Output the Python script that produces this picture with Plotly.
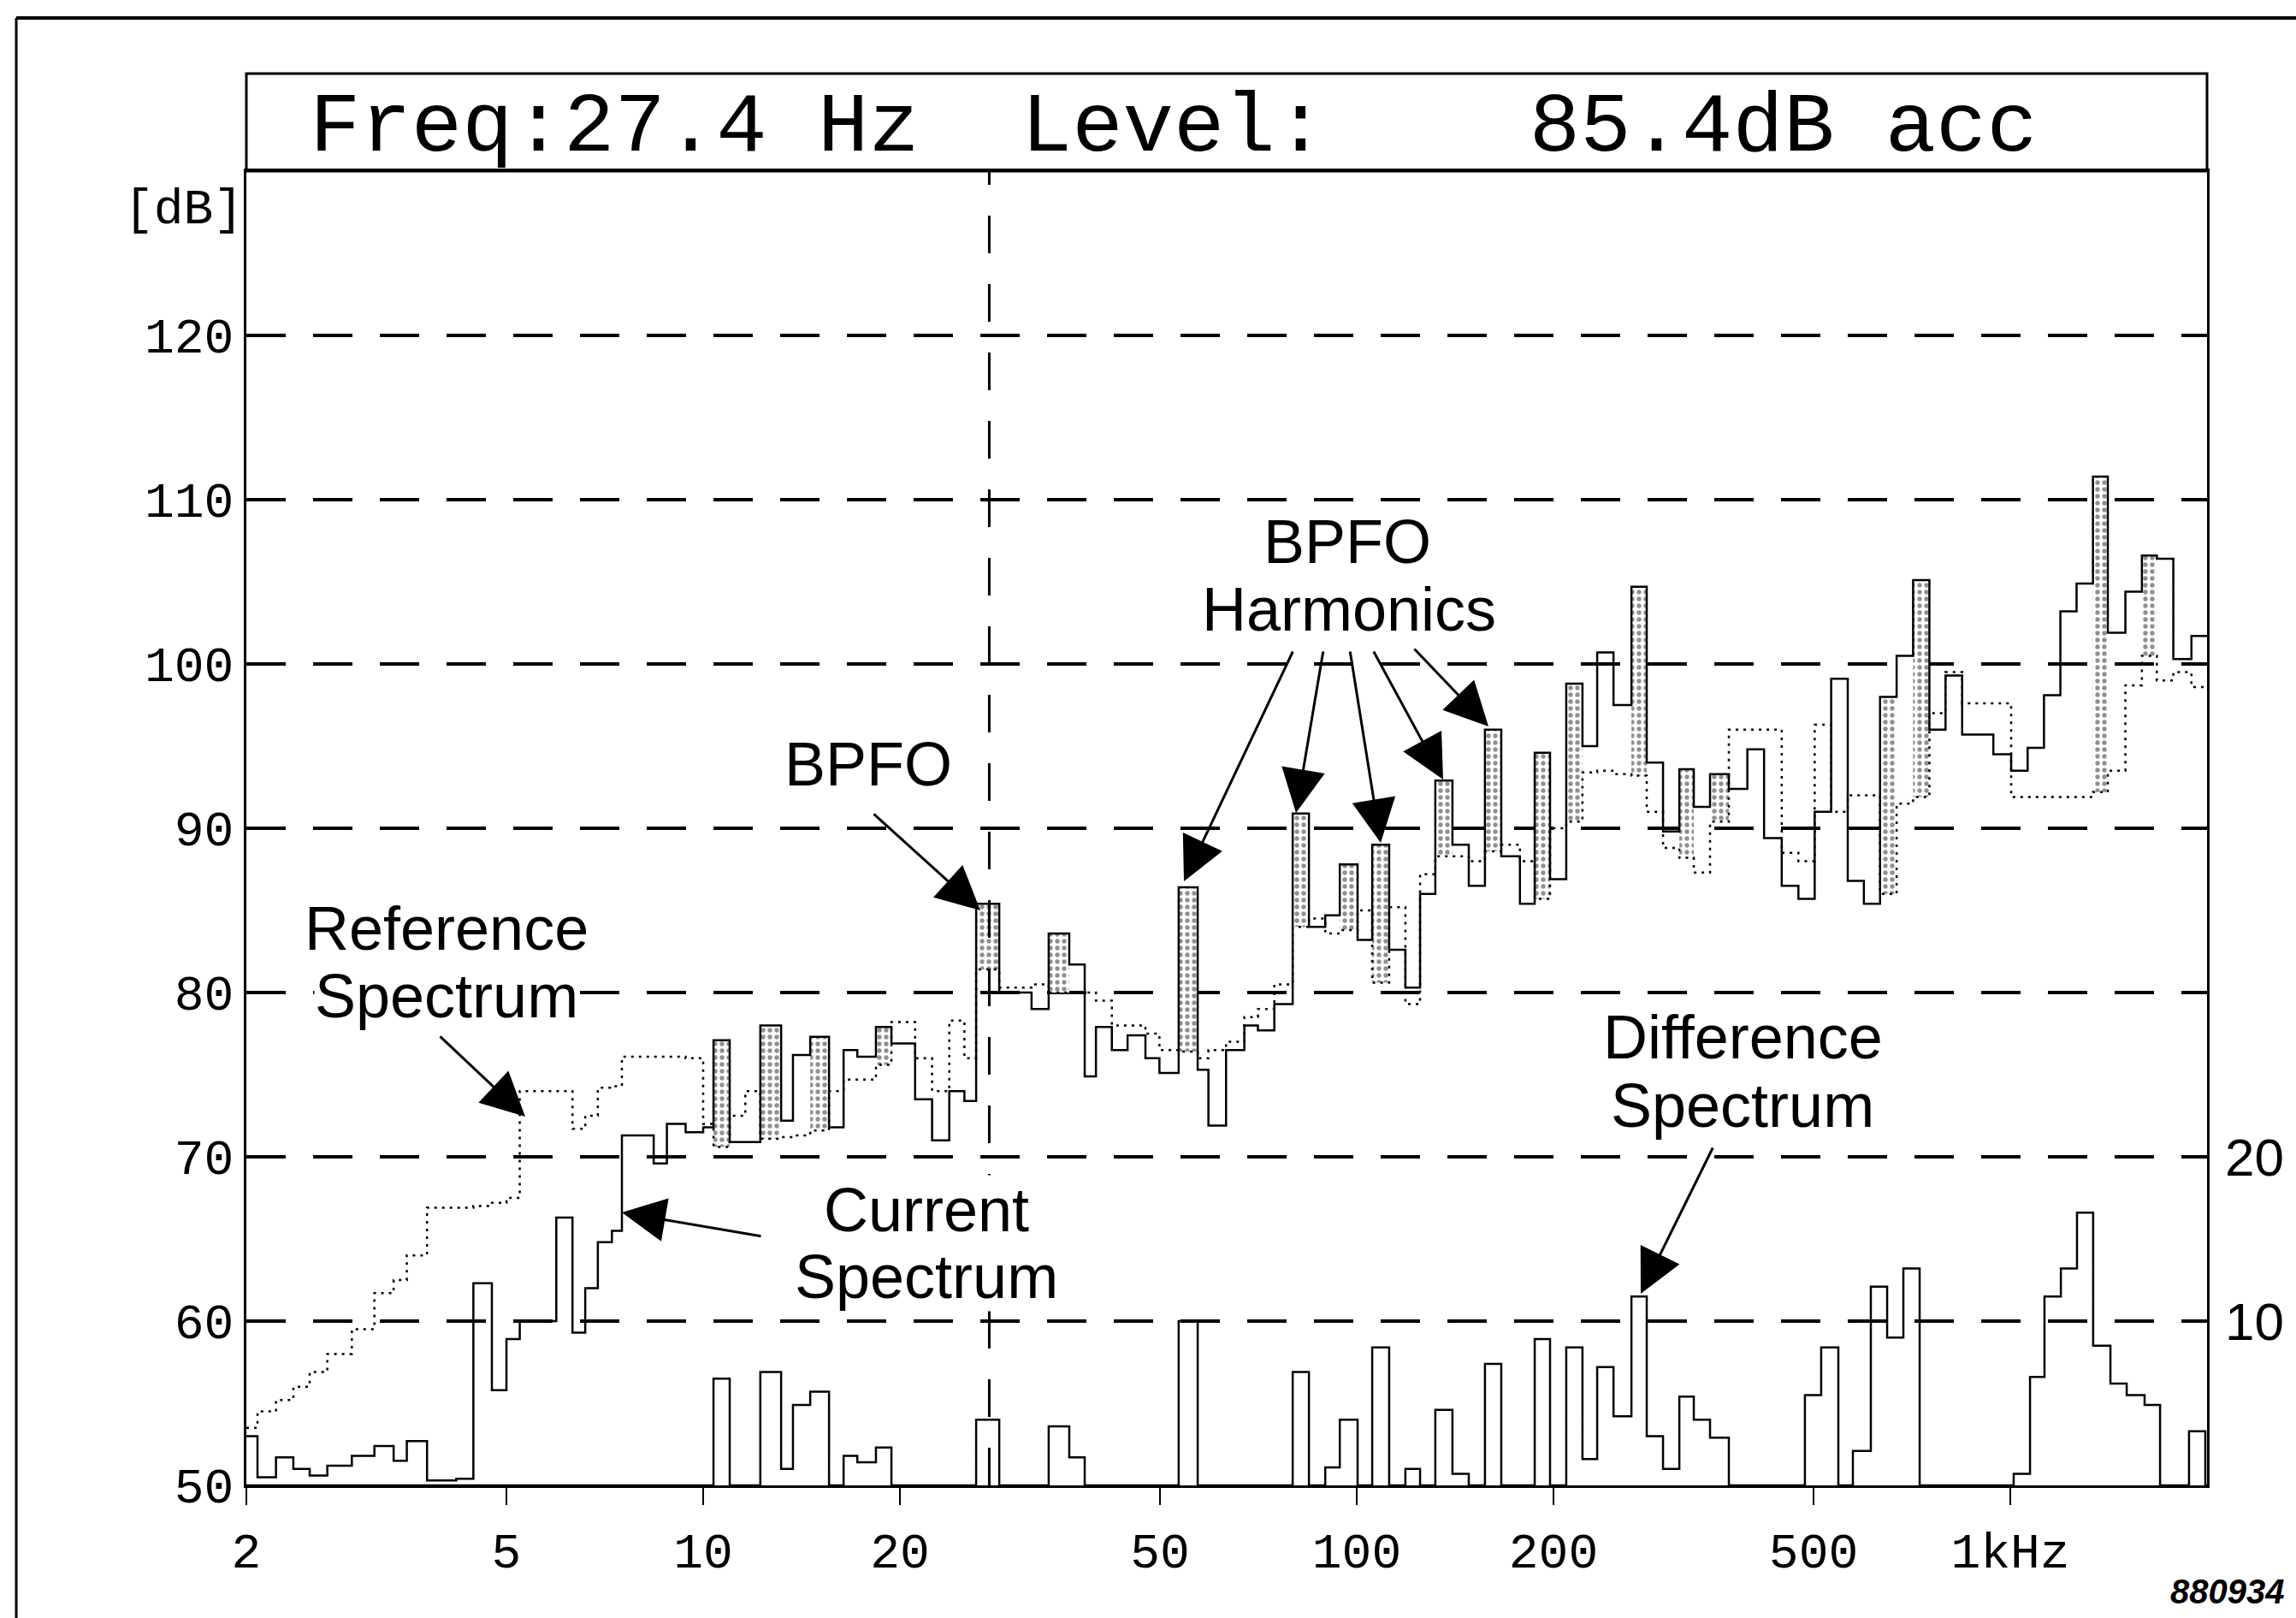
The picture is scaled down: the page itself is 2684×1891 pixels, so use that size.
import math
import plotly.graph_objects as go

# ---------------- data ----------------
# upper spectra: band lower edges (Hz) + final upper edge
FREQ_EDGES = [2.00, 2.08, 2.22, 2.36, 2.50, 2.66, 2.90, 3.14, 3.36, 3.52,
              3.78, 4.19, 4.45, 4.75, 5.00, 5.24, 5.96, 6.31, 6.60, 6.90,
              7.25, 7.51, 8.40, 8.80, 9.40, 10.00, 10.37, 10.98, 11.60, 12.23,
              13.16, 13.72, 14.58, 15.58, 16.40, 17.21, 18.38, 19.41, 21.10, 22.40,
              23.80, 25.10, 26.16, 28.38, 31.80, 33.78, 36.32, 38.35, 39.90, 42.20,
              44.60, 47.50, 49.90, 53.40, 57.10, 59.30, 63.10, 67.30, 70.60, 74.80,
              79.80, 84.50, 89.50, 94.20, 100.3, 105.6, 112.1, 118.7, 125.0, 131.9,
              140.1, 148.4, 157.1, 166.4, 177.7, 187.2, 197.6, 209.2, 221.5, 233.3,
              247.1, 263.2, 277.8, 294.2, 311.6, 327.9, 347.2, 371.0, 396.0, 420.0,
              447.0, 474.0, 502.0, 532.0, 564.0, 597.0, 632.0, 670.0, 710.0, 752.0,
              796.0, 844.0, 942.0, 1003, 1063, 1126, 1193, 1263, 1338, 1410,
              1500, 1590, 1676, 1776, 1893, 2000]

REFERENCE_DB = [53.5, 54.5, 55.2, 56.0, 56.9, 58.0, 59.5, 61.7, 62.5, 64.0,
                66.9, 66.9, 67.0, 67.2, 67.5, 74.0, 74.0, 71.7, 72.5, 74.2,
                74.3, 76.1, 76.1, 76.1, 76.0, 72.0, 70.6, 72.5, 74.0, 71.1,
                71.2, 71.3, 71.6, 74.0, 74.7, 74.7, 75.6, 78.2, 76.0, 74.0,
                78.3, 76.0, 81.4, 80.3, 80.5, 80.0, 80.0, 80.0, 79.5, 78.0,
                78.0, 77.5, 76.5, 76.4, 76.0, 76.5, 77.0, 78.5, 79.0, 80.5,
                84.0, 84.5, 83.6, 83.8, 85.0, 80.6, 85.2, 79.3, 87.2, 88.3,
                88.3, 88.0, 88.6, 89.0, 88.0, 85.7, 90.0, 90.4, 93.4, 93.5,
                93.3, 93.2, 91.0, 88.8, 88.2, 87.3, 90.4, 96.0, 96.0, 96.0,
                88.5, 88.0, 96.3, 91.0, 92.0, 92.0, 86.0, 91.5, 91.9, 97.0,
                99.5, 97.6, 97.6, 91.9, 91.9, 91.9, 91.9, 91.9, 92.2, 93.5,
                98.7, 100.5, 99.0, 99.5, 98.6]

CURRENT_DB = [53.0, 50.5, 51.7, 51.0, 50.6, 51.2, 51.8, 52.4, 51.5, 52.7,
              50.3, 50.4, 62.3, 55.8, 58.9, 60.0, 66.3, 59.3, 62.0, 64.8,
              65.5, 71.3, 69.6, 72.0, 71.5, 71.8, 77.1, 70.9, 70.9, 78.0,
              72.2, 76.2, 77.3, 71.8, 76.5, 76.1, 77.9, 76.9, 73.5, 71.0,
              74.0, 73.4, 85.4, 80.0, 79.0, 83.6, 81.7, 74.9, 77.9, 76.5,
              77.4, 76.0, 75.1, 86.4, 75.3, 71.9, 76.5, 78.0, 77.7, 79.3,
              90.9, 84.0, 84.7, 87.8, 83.2, 89.0, 82.6, 80.3, 86.0, 92.9,
              89.0, 86.5, 96.0, 88.3, 85.4, 94.6, 86.9, 98.8, 95.0, 100.7,
              97.5, 104.7, 94.0, 89.8, 93.6, 91.3, 93.3, 92.4, 94.8, 89.4,
              86.5, 85.7, 91.0, 99.1, 86.8, 85.4, 98.0, 100.5, 105.1, 96.0,
              99.3, 95.7, 94.5, 93.5, 94.9, 98.1, 103.2, 104.9, 111.4, 101.9,
              104.4, 106.6, 106.4, 100.3, 101.7]

# bands drawn stippled (lower band edge, Hz)
STIPPLED_BANDS = [10.37, 12.23, 14.58, 18.38, 26.16, 33.78, 53.40, 79.80, 94.20,
                  105.6, 131.9, 157.1, 187.2, 209.2, 263.2, 311.6, 347.2, 632.0,
                  710.0, 1338, 1590]

# difference spectrum (dB above reference), band edges + levels
DIFF_EDGES = [2.0, 10.37, 10.98, 12.23, 13.16, 13.72, 14.58, 15.58, 16.40, 17.21,
              18.38, 19.41, 26.16, 28.38, 33.78, 36.32, 38.35, 53.4, 57.1, 79.8,
              84.5, 89.5, 94.2, 100.3, 105.6, 112.1, 118.7, 125.0, 131.9, 140.1,
              148.4, 157.1, 166.4, 187.2, 197.6, 209.2, 221.5, 233.3, 247.1, 263.2,
              277.8, 294.2, 311.6, 327.9, 347.2, 371.0, 485.0, 513.6, 545.6, 574.3,
              611.8, 648.0, 686.1, 726.6, 1012, 1072, 1128, 1195, 1265, 1339,
              1423, 1507, 1605, 1695, 1877, 1988, 2000]
DIFF_DB = [0, 6.5, 0, 6.9, 1.0, 4.9, 5.7, 0, 1.8, 1.4,
           2.3, 0, 4.0, 0, 3.6, 1.7, 0, 10.0, 0, 6.9,
           0, 1.1, 4.0, 0, 8.4, 0, 1.0, 0, 4.6, 0.7,
           0, 7.4, 0, 8.9, 0, 8.4, 1.6, 7.2, 4.2, 11.5,
           3.0, 1.0, 5.4, 4.0, 2.9, 0, 5.5, 8.4, 0, 2.1,
           12.1, 9.0, 13.2, 0, 0.7, 6.6, 11.5, 13.2, 16.6, 8.5,
           6.2, 5.5, 4.9, 0, 3.3, 0]

Y_TICKS = [50, 60, 70, 80, 90, 100, 110, 120]
Y_RANGE = [50, 130]
X_TICKS = [2, 5, 10, 20, 50, 100, 200, 500, 1000]
X_TICK_LABELS = ["2", "5", "10", "20", "50", "100", "200", "500", "1kHz"]
X_RANGE_HZ = [2, 2000]
DIFF_TICKS = [10, 20]
CURSOR_FREQ = 27.4
CURSOR_LEVEL = 85.4

# ---------------- layout geometry (pixels) ----------------
W, H = 2684, 1891
PL, PR, PT, PB = 288, 2580, 200, 1736
HEADER_TOP = 86


def px(xp):
    return (xp - PL) / (PR - PL)


def py(yp):
    return (PB - yp) / (PB - PT)


MONO = "Liberation Mono, DejaVu Sans Mono, monospace"
SANS = "Liberation Sans, Arial, Helvetica, sans-serif"

fig = go.Figure()

# stippled exceedance areas
sx, sy = [], []
for i, f0 in enumerate(FREQ_EDGES[:-1]):
    if f0 in STIPPLED_BANDS:
        f1 = FREQ_EDGES[i + 1]
        lo = min(REFERENCE_DB[i], CURRENT_DB[i])
        hi = max(REFERENCE_DB[i], CURRENT_DB[i])
        sx += [f0, f1, f1, f0, f0, None]
        sy += [lo, lo, hi, hi, lo, None]
fig.add_trace(go.Scatter(
    x=sx, y=sy, mode="lines", fill="toself", line=dict(width=0, color="rgba(0,0,0,0)"),
    fillcolor="white",
    fillpattern=dict(shape=".", size=8, solidity=0.35, fgcolor="#222", bgcolor="white"),
    hoverinfo="skip", showlegend=False))

# reference spectrum (dotted)
fig.add_trace(go.Scatter(
    x=FREQ_EDGES, y=REFERENCE_DB + [REFERENCE_DB[-1]], mode="lines",
    line=dict(shape="hv", color="black", width=2.5, dash="3px,6px"),
    name="Reference Spectrum", showlegend=False))

# current spectrum (solid)
fig.add_trace(go.Scatter(
    x=FREQ_EDGES, y=CURRENT_DB + [CURRENT_DB[-1]], mode="lines",
    line=dict(shape="hv", color="black", width=2.5),
    name="Current Spectrum", showlegend=False))

# difference spectrum (right scale)
fig.add_trace(go.Scatter(
    x=DIFF_EDGES, y=DIFF_DB + [DIFF_DB[-1]], mode="lines", yaxis="y2",
    line=dict(shape="hv", color="black", width=2.5),
    name="Difference Spectrum", showlegend=False))

shapes = []
# cursor line
shapes.append(dict(type="line", xref="x", yref="y", x0=CURSOR_FREQ, x1=CURSOR_FREQ,
                   y0=Y_RANGE[0], y1=Y_RANGE[1],
                   line=dict(color="black", width=3, dash="44px,36px")))
# header box
shapes.append(dict(type="rect", xref="paper", yref="paper", x0=0, x1=1,
                   y0=1, y1=py(HEADER_TOP), line=dict(color="black", width=3),
                   fillcolor="rgba(0,0,0,0)"))
# outer frame (top and left)
shapes.append(dict(type="line", xref="paper", yref="paper", x0=px(19), x1=px(W),
                   y0=py(21), y1=py(21), line=dict(color="black", width=4)))
shapes.append(dict(type="line", xref="paper", yref="paper", x0=px(19), x1=px(19),
                   y0=py(21), y1=py(H), line=dict(color="black", width=3)))

annotations = []
header = f"Freq:{CURSOR_FREQ} Hz  Level:    {CURSOR_LEVEL}dB acc"
annotations.append(dict(text=header, xref="paper", yref="paper", x=px(360), y=py(150),
                        xanchor="left", yanchor="middle", showarrow=False,
                        font=dict(family=MONO, size=99, color="black")))
annotations.append(dict(text="[dB]", xref="paper", yref="paper", x=px(286), y=py(246),
                        xanchor="right", yanchor="middle", showarrow=False,
                        font=dict(family=MONO, size=58, color="black")))

labels = [("BPFO", 1575, 633), ("Harmonics", 1577, 712), ("BPFO", 1015, 893),
          ("Reference", 522, 1085), ("Spectrum", 522, 1164),
          ("Current", 1083, 1414), ("Spectrum", 1083, 1492),
          ("Difference", 2037, 1212), ("Spectrum", 2037, 1292)]
for t, xx, yy in labels:
    annotations.append(dict(text=t, xref="paper", yref="paper", x=px(xx), y=py(yy),
                            xanchor="center", yanchor="middle", showarrow=False,
                            bgcolor="white", borderpad=0,
                            font=dict(family=SANS, size=72, color="black")))

arrows = [((1512, 760), (1384, 1030)), ((1547, 760), (1515, 950)),
          ((1578, 760), (1614, 985)), ((1605, 760), (1687, 911)),
          ((1652, 757), (1740, 849)), ((1020, 950), (1146, 1064)),
          ((513, 1210), (614, 1305)), ((891, 1445), (727, 1417)),
          ((2003, 1340), (1918, 1512))]
for (tx, ty), (hx, hy) in arrows:
    annotations.append(dict(text="", xref="paper", yref="paper", x=px(hx), y=py(hy),
                            ax=tx - hx, ay=ty - hy, axref="pixel", ayref="pixel",
                            showarrow=True, arrowhead=2, arrowsize=3.4, arrowwidth=3,
                            arrowcolor="black", standoff=0))

annotations.append(dict(text="<b><i>880934</i></b>", xref="paper", yref="paper",
                        x=px(2672), y=py(1860), xanchor="right", yanchor="middle",
                        showarrow=False, font=dict(family=SANS, size=40, color="black")))

fig.update_layout(
    width=W, height=H, autosize=False,
    margin=dict(l=PL, r=W - PR, t=PT, b=H - PB, pad=0),
    paper_bgcolor="white", plot_bgcolor="white",
    showlegend=False,
    shapes=shapes, annotations=annotations,
    xaxis=dict(type="log", range=[math.log10(X_RANGE_HZ[0]), math.log10(X_RANGE_HZ[1])],
               tickvals=X_TICKS, ticktext=X_TICK_LABELS, showgrid=False, zeroline=False,
               showline=True, linecolor="black", linewidth=3, mirror=True,
               ticks="outside", ticklen=20, tickwidth=2, tickcolor="black",
               ticklabelstandoff=3,
               tickfont=dict(family=MONO, size=58, color="black")),
    yaxis=dict(range=Y_RANGE, tickvals=Y_TICKS, ticktext=[str(v) for v in Y_TICKS],
               showgrid=True, gridcolor="black", gridwidth=4, griddash="46px,32px",
               zeroline=False, showline=True, linecolor="black", linewidth=3, mirror=True,
               ticks="", ticklabelstandoff=0,
               tickfont=dict(family=MONO, size=58, color="black")),
    yaxis2=dict(range=[Y_RANGE[0] - 50, Y_RANGE[1] - 50], overlaying="y", side="right",
                tickvals=DIFF_TICKS, ticktext=[str(v) for v in DIFF_TICKS],
                showgrid=False, zeroline=False, showline=False, ticks="",
                ticklabelstandoff=20,
                tickfont=dict(family=SANS, size=62, color="black")),
)

fig.write_html("out.html", config={"displayModeBar": False},
               post_script="document.body.style.margin='0';")
